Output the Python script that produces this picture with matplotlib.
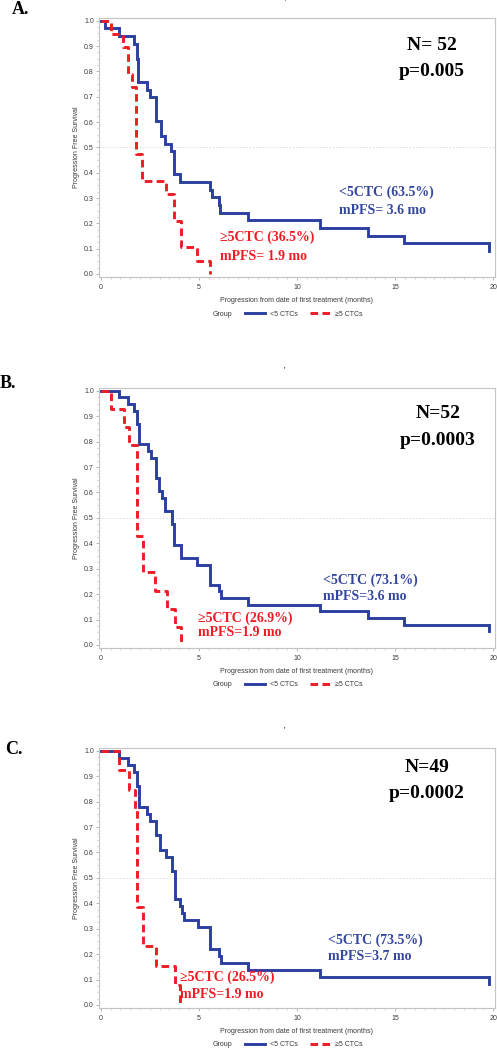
import matplotlib
matplotlib.use("Agg")
import matplotlib.pyplot as plt
from matplotlib.ticker import MultipleLocator, FormatStrFormatter

# ---------------- data ----------------
# Panel A
A_blue_t = [0, 0.24, 0.94, 1.71, 1.84, 1.92, 2.35, 2.50, 2.81, 3.05, 3.29, 3.60, 3.75, 4.06,
            5.59, 5.65, 6.02, 6.10, 7.52, 11.18, 13.60, 15.43, 19.78]
A_blue_s = [1.0, 0.970, 0.939, 0.909, 0.848, 0.758, 0.727, 0.697, 0.606, 0.545, 0.515, 0.485,
            0.394, 0.364, 0.333, 0.303, 0.273, 0.242, 0.212, 0.182, 0.151, 0.121, 0.091]
A_red_t = [0, 0.52, 1.12, 1.41, 1.58, 1.80, 2.12, 3.34, 3.71, 4.10, 4.91, 5.59]
A_red_s = [1.0, 0.947, 0.895, 0.789, 0.737, 0.474, 0.368, 0.316, 0.211, 0.105, 0.053, 0.0]

# Panel B
B_blue_t = [0, 0.94, 1.41, 1.70, 1.84, 1.93, 2.39, 2.57, 2.81, 2.98, 3.12, 3.29, 3.63, 3.75,
            4.08, 4.91, 5.59, 6.02, 6.12, 7.52, 11.18, 13.60, 15.43, 19.80]
B_blue_s = [1.0, 0.974, 0.947, 0.921, 0.868, 0.789, 0.763, 0.737, 0.658, 0.605, 0.579, 0.526,
            0.474, 0.395, 0.342, 0.316, 0.237, 0.211, 0.184, 0.158, 0.132, 0.105, 0.079, 0.053]
B_red_t = [0, 0.51, 1.16, 1.46, 1.84, 2.15, 2.78, 3.38, 3.80, 4.11]
B_red_s = [1.0, 0.929, 0.857, 0.786, 0.429, 0.286, 0.214, 0.143, 0.071, 0.0]

# Panel C
C_blue_t = [0, 0.94, 1.41, 1.70, 1.84, 1.93, 2.35, 2.52, 2.81, 3.03, 3.32, 3.63, 3.76, 4.05,
            4.15, 4.26, 4.94, 5.59, 6.05, 6.15, 7.52, 11.18, 19.78]
C_blue_s = [1.0, 0.972, 0.944, 0.917, 0.861, 0.778, 0.750, 0.722, 0.667, 0.611, 0.583, 0.528,
            0.417, 0.389, 0.361, 0.333, 0.306, 0.222, 0.194, 0.167, 0.139, 0.111, 0.083]
C_red_t = [0, 0.94, 1.45, 1.72, 1.87, 2.15, 2.83, 3.76, 4.04]
C_red_s = [1.0, 0.923, 0.846, 0.769, 0.385, 0.231, 0.154, 0.077, 0.0]

panel_letters = ["A.", "B.", "C."]
n_labels = ["N= 52", "N=52", "N=49"]
p_labels = ["p=0.005", "p=0.0003", "p=0.0002"]
blue_labels = [["<5CTC (63.5%)", "mPFS= 3.6 mo"],
               ["<5CTC (73.1%)", "mPFS=3.6 mo"],
               ["<5CTC (73.5%)", "mPFS=3.7 mo"]]
red_labels = [["\u22655CTC (36.5%)", "mPFS= 1.9 mo"],
              ["\u22655CTC (26.9%)", "mPFS=1.9 mo"],
              ["\u22655CTC (26.5%)", "mPFS=1.9 mo"]]
group_names = ["<5 CTCs", "\u22655 CTCs"]
x_label = "Progression from date of first treatment (months)"
y_label = "Progression Free Survival"

# ---------------- layout ----------------
W, H = 497, 1050
fig = plt.figure(figsize=(W / 100, H / 100), dpi=100)

def fx(x):
    return x / W

def fy(y):
    return 1 - y / H

BLUE = "#2b3f9e"
RED = "#ee1c24"
SERIF = ["Liberation Serif", "DejaVu Serif"]
SANS = ["Liberation Sans", "DejaVu Sans"]
GRAY_TXT = "#3a3a3a"

# axes boxes in pixels: (left, top, right, bottom)
boxes = [(99, 18, 495, 277), (99, 388, 495, 648), (99, 748, 495, 1008)]
letter_pos = [(12, 9), (0, 383), (5, 750)]
np_pos = [(432, 45, 72), (438, 413, 440), (427, 768, 793)]
blue_txt_pos = [(339, 192, 211), (323, 580, 596), (328, 940, 957)]
red_txt_pos = [(220, 237, 257), (198, 618, 633), (180, 977, 995)]
dot_pos = [(285, 3), (284, 371), (284, 731)]
data = [(A_blue_t, A_blue_s, A_red_t, A_red_s),
        (B_blue_t, B_blue_s, B_red_t, B_red_s),
        (C_blue_t, C_blue_s, C_red_t, C_red_s)]

for i in range(3):
    l, t, r, b = boxes[i]
    ax = fig.add_axes([fx(l), fy(b), (r - l) / W, (b - t) / H])
    bt, bs, rt, rs = data[i]
    lb, = ax.step(bt, bs, where="post", color=BLUE, lw=2.1, label=group_names[0],
                  solid_joinstyle="miter", zorder=3)
    lr, = ax.step(rt, rs, where="post", color=RED, lw=2.1, label=group_names[1],
                  dashes=(2.6, 1.5), zorder=4)
    ax.axhline(0.5, color="#d8d8d8", lw=0.6, ls=(0, (2, 2)), zorder=1)

    ax.set_xlim(-0.09, 20.09)
    ax.set_ylim(-0.012, 1.011)
    ax.xaxis.set_major_locator(MultipleLocator(5))
    ax.xaxis.set_minor_locator(MultipleLocator(0.5))
    ax.yaxis.set_major_locator(MultipleLocator(0.1))
    ax.yaxis.set_minor_locator(MultipleLocator(0.025))
    ax.yaxis.set_major_formatter(FormatStrFormatter("%.1f"))
    ax.tick_params(which="major", length=2.2, width=0.5, color="#9a9a9a",
                   labelsize=5, labelcolor=GRAY_TXT, pad=1.5)
    ax.tick_params(which="minor", length=1.3, width=0.4, color="#b0b0b0")
    ax.tick_params(axis="x", which="major", pad=2.5)
    for lab in ax.get_xticklabels() + ax.get_yticklabels():
        lab.set_family(SANS)
    for sp in ax.spines.values():
        sp.set_color("#c4c4c4")
        sp.set_linewidth(0.8)
    ax.set_xlabel(x_label, fontsize=5, family=SANS, color=GRAY_TXT, labelpad=5)
    ax.set_ylabel(y_label, fontsize=5, family=SANS, color=GRAY_TXT, labelpad=3)

    # legend
    ly = b + 37
    fig.text(fx(213), fy(ly), "Group", fontsize=5, family=SANS, color=GRAY_TXT,
             ha="left", va="center")
    leg = ax.legend(handles=[lb, lr], loc="center left",
                    bbox_to_anchor=(fx(245), fy(ly)), bbox_transform=fig.transFigure,
                    ncol=2, frameon=False, fontsize=5, borderpad=0, borderaxespad=0,
                    handlelength=2.9, handletextpad=0.7, columnspacing=1.7,
                    prop={"family": SANS, "size": 5})
    for txt in leg.get_texts():
        txt.set_color(GRAY_TXT)

    # annotations
    lx, lyy = letter_pos[i]
    fig.text(fx(lx), fy(lyy), panel_letters[i], fontsize=13, fontweight="bold",
             family=SERIF, ha="left", va="center")
    nx, ny, py = np_pos[i]
    fig.text(fx(nx), fy(ny), n_labels[i], fontsize=14, fontweight="bold",
             family=SERIF, ha="center", va="center")
    fig.text(fx(nx), fy(py), p_labels[i], fontsize=14, fontweight="bold",
             family=SERIF, ha="center", va="center")
    bx, by1, by2 = blue_txt_pos[i]
    fig.text(fx(bx), fy(by1), blue_labels[i][0], fontsize=10, fontweight="bold",
             family=SERIF, color="#34479e", ha="left", va="center")
    fig.text(fx(bx), fy(by2), blue_labels[i][1], fontsize=10, fontweight="bold",
             family=SERIF, color="#34479e", ha="left", va="center")
    rx, ry1, ry2 = red_txt_pos[i]
    fig.text(fx(rx), fy(ry1), red_labels[i][0], fontsize=10, fontweight="bold",
             family=SERIF, color=RED, ha="left", va="center")
    fig.text(fx(rx), fy(ry2), red_labels[i][1], fontsize=10, fontweight="bold",
             family=SERIF, color=RED, ha="left", va="center")
    dx, dy = dot_pos[i]
    fig.text(fx(dx), fy(dy), "'", fontsize=6, family=SERIF, ha="center", va="center")

fig.savefig("out.png", dpi=100, facecolor="white")
